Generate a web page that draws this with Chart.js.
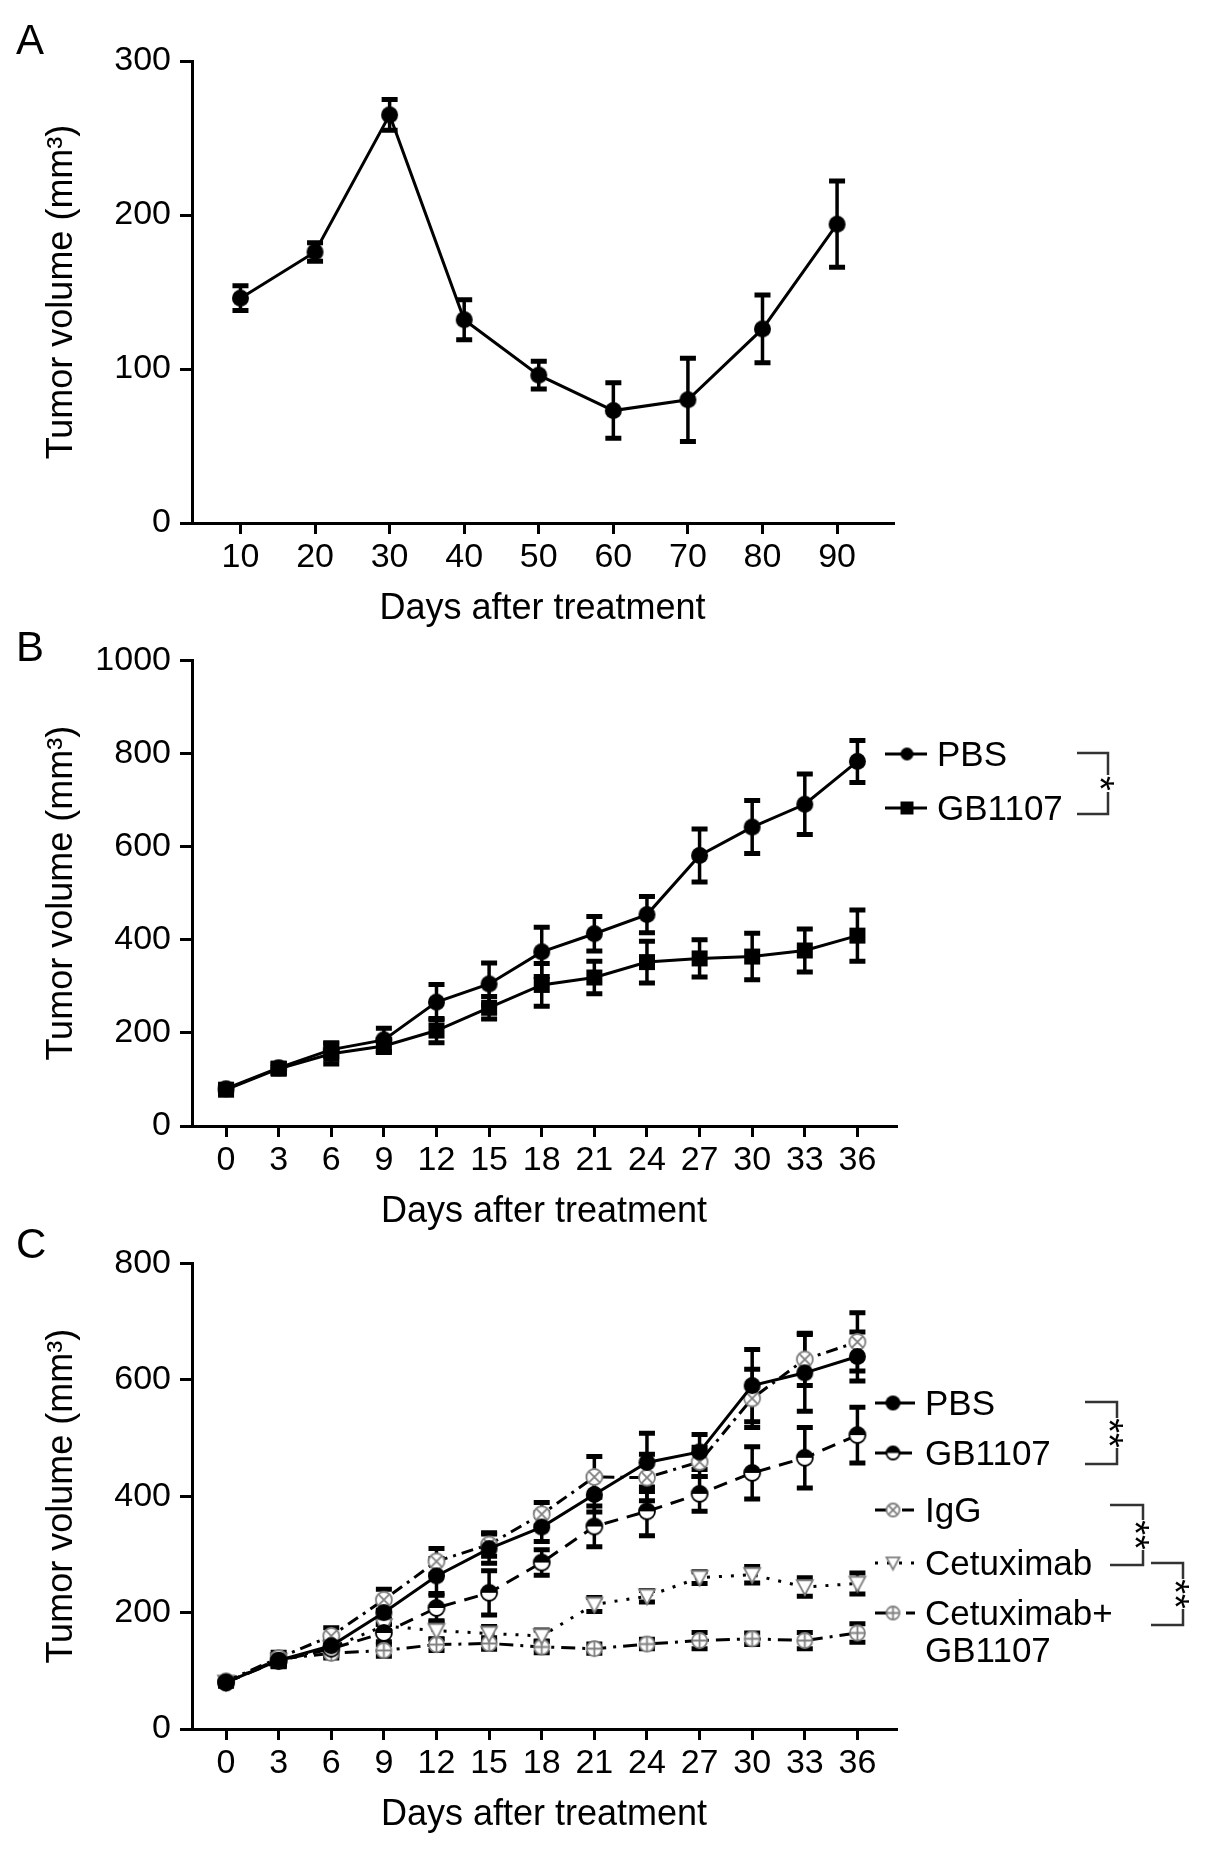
<!DOCTYPE html>
<html lang="en">
<head>
<meta charset="UTF-8">
<title>Tumor volume after treatment</title>
<script src="https://cdn.jsdelivr.net/npm/chart.js"></script>
<style>
  html, body { margin: 0; padding: 0; background: #fff; }
  body { width: 1205px; height: 1849px; position: relative; overflow: hidden;
         font-family: "Liberation Sans", Arial, sans-serif; }
  canvas.panel { position: absolute; left: 0; }
  .letter { position: absolute; left: 16px; font-size: 42px; line-height: 1; color: #000; }
</style>
</head>
<body>
<canvas id="chartA" class="panel" width="1205" height="631" style="top:0"></canvas>
<canvas id="chartB" class="panel" width="1205" height="603" style="top:631px"></canvas>
<canvas id="chartC" class="panel" width="1205" height="603" style="top:1234px"></canvas>
<div class="letter" style="top:19px">A</div>
<div class="letter" style="top:626px">B</div>
<div class="letter" style="top:1223px">C</div>

<script>
// panel A
const daysA = [10, 20, 30, 40, 50, 60, 70, 80, 90];
const volumeA = [146, 176, 265, 132, 96, 73, 80, 126, 194];
const errorA = [8, 6, 10, 13, 9, 18, 27, 22, 28];
const yTicksA = [0, 100, 200, 300];

// panels B and C share the days
const days = [0, 3, 6, 9, 12, 15, 18, 21, 24, 27, 30, 33, 36];

// panel B
const groupsB = ['PBS', 'GB1107'];
const pbsB = [80, 125, 164, 185, 266, 305, 374, 413, 454, 581, 642, 691, 783];
const pbsErrB = [6, 10, 15, 25, 38, 45, 53, 37, 39, 57, 57, 65, 45];
const gbB = [78, 123, 155, 172, 205, 254, 303, 319, 352, 360, 364, 377, 409];
const gbErrB = [8, 10, 22, 14, 26, 24, 46, 35, 45, 40, 50, 46, 55];
const yTicksB = [0, 200, 400, 600, 800, 1000];

// panel C
const groupsC = ['PBS', 'GB1107', 'IgG', 'Cetuximab', 'Cetuximab+GB1107'];
const pbsC = [80, 118, 143, 200, 263, 310, 347, 403, 458, 476, 590, 612, 640];
const pbsErrC = [6, 10, 12, 20, 30, 25, 25, 30, 50, 30, 62, 66, 42];
const gbC = [80, 117, 138, 165, 208, 234, 286, 348, 374, 404, 440, 466, 505];
const gbErrC = [6, 10, 12, 15, 22, 38, 22, 35, 42, 30, 45, 52, 48];
const iggC = [82, 122, 160, 222, 288, 317, 369, 433, 432, 459, 568, 635, 665];
const iggErrC = [5, 10, 14, 18, 22, 20, 20, 35, 40, 25, 50, 45, 50];
const cetC = [80, 118, 140, 177, 169, 164, 160, 214, 228, 260, 265, 244, 250];
const cetErrC = [5, 8, 10, 12, 15, 12, 10, 12, 10, 10, 14, 16, 18];
const comboC = [80, 120, 130, 135, 145, 147, 141, 138, 146, 152, 155, 152, 165];
const comboErrC = [5, 8, 8, 10, 10, 10, 10, 8, 8, 14, 10, 14, 16];
const yTicksC = [0, 200, 400, 600, 800];

const FONT = '"Liberation Sans", Arial, sans-serif';
Chart.defaults.font.family = FONT;
Chart.defaults.color = '#000';

const GRAY = '#808080';

// little canvases used as point styles
function makeMarker(type, s) {
  const c = document.createElement('canvas');
  const w = s + 4;
  c.width = c.height = w;
  const g = c.getContext('2d');
  const m = w / 2, r = s / 2;
  g.lineWidth = 1.8;
  if (type === 'dot') {
    g.fillStyle = '#000';
    g.beginPath(); g.arc(m, m, r, 0, 2 * Math.PI); g.fill();
  } else if (type === 'square') {
    g.fillStyle = '#000';
    g.fillRect(m - r, m - r, s, s);
  } else if (type === 'half') {
    g.fillStyle = '#fff';
    g.beginPath(); g.arc(m, m, r - 1, 0, 2 * Math.PI); g.fill();
    g.fillStyle = '#000';
    g.beginPath(); g.arc(m, m, r - 1, Math.PI, 2 * Math.PI); g.closePath(); g.fill();
    g.strokeStyle = '#000';
    g.beginPath(); g.arc(m, m, r - 1, 0, 2 * Math.PI); g.stroke();
  } else if (type === 'xcircle') {
    g.fillStyle = '#fff'; g.strokeStyle = GRAY;
    g.beginPath(); g.arc(m, m, r - 1, 0, 2 * Math.PI); g.fill(); g.stroke();
    const d = (r - 1) * 0.7;
    g.beginPath();
    g.moveTo(m - d, m - d); g.lineTo(m + d, m + d);
    g.moveTo(m + d, m - d); g.lineTo(m - d, m + d);
    g.stroke();
  } else if (type === 'tri') {
    g.fillStyle = '#fff'; g.strokeStyle = GRAY;
    g.beginPath();
    g.moveTo(m - r + 1, m - r * 0.75); g.lineTo(m + r - 1, m - r * 0.75); g.lineTo(m, m + r - 1);
    g.closePath(); g.fill(); g.stroke();
  } else if (type === 'pcircle') {
    g.fillStyle = '#fff'; g.strokeStyle = GRAY;
    g.beginPath(); g.arc(m, m, r - 1, 0, 2 * Math.PI); g.fill(); g.stroke();
    g.beginPath();
    g.moveTo(m - r + 1, m); g.lineTo(m + r - 1, m);
    g.moveTo(m, m - r + 1); g.lineTo(m, m + r - 1);
    g.stroke();
  }
  return c;
}

function points(xs, ys) {
  return xs.map((x, i) => ({ x: x, y: ys[i] }));
}

function series(label, xs, ys, errs, marker, size, dash) {
  return {
    label: label,
    data: points(xs, ys),
    errors: errs,
    markerType: marker,
    borderColor: '#000',
    borderWidth: 3,
    borderDash: dash,
    tension: 0,
    pointStyle: makeMarker(marker, size),
    pointRadius: size / 2,
    fill: false
  };
}

// error bars drawn under lines and markers
const errorBars = {
  id: 'errorBars',
  beforeDatasetsDraw(chart) {
    const { ctx, scales: { x, y } } = chart;
    ctx.save();
    ctx.strokeStyle = '#000';
    chart.data.datasets.forEach(ds => {
      if (!ds.errors) return;
      ds.data.forEach((p, j) => {
        const e = ds.errors[j];
        const px = x.getPixelForValue(p.x);
        const top = y.getPixelForValue(p.y + e);
        const bot = y.getPixelForValue(p.y - e);
        ctx.lineWidth = 3.5;
        ctx.beginPath(); ctx.moveTo(px, top); ctx.lineTo(px, bot); ctx.stroke();
        ctx.lineWidth = 5;
        ctx.beginPath();
        ctx.moveTo(px - 8, top); ctx.lineTo(px + 8, top);
        ctx.moveTo(px - 8, bot); ctx.lineTo(px + 8, bot);
        ctx.stroke();
      });
    });
    ctx.restore();
  }
};

function wrapLabel(t) {
  const k = t.indexOf('+');
  return k > 0 && k < t.length - 1 ? [t.slice(0, k + 1), t.slice(k + 1)] : [t];
}

// legend at the right plus significance brackets
const sideLegend = {
  id: 'sideLegend',
  afterDraw(chart, args, opts) {
    if (!opts.rows) return;
    const ctx = chart.ctx;
    const off = chart.canvas.offsetTop;
    ctx.save();
    chart.data.datasets.forEach((ds, i) => {
      const y = opts.rows[i] - off;
      ctx.strokeStyle = '#000';
      ctx.lineWidth = 3;
      ctx.setLineDash(ds.borderDash || []);
      ctx.beginPath(); ctx.moveTo(opts.lineX[0], y); ctx.lineTo(opts.lineX[1], y); ctx.stroke();
      ctx.setLineDash([]);
      const img = makeMarker(ds.markerType, opts.markerSize);
      ctx.drawImage(img, opts.markerX - img.width / 2, y - img.height / 2);
      ctx.fillStyle = '#000';
      ctx.font = '35px ' + FONT;
      ctx.textAlign = 'left';
      ctx.textBaseline = 'middle';
      wrapLabel(ds.label).forEach((t, k) => ctx.fillText(t, opts.textX, y + 2 + k * opts.lineGap));
    });
    (opts.brackets || []).forEach(b => {
      const y0 = b.y0 - off, y1 = b.y1 - off, ym = (y0 + y1) / 2;
      ctx.strokeStyle = '#333';
      ctx.lineWidth = 2.5;
      ctx.beginPath();
      ctx.moveTo(b.x0, y0); ctx.lineTo(b.x1, y0); ctx.lineTo(b.x1, y1); ctx.lineTo(b.x0, y1);
      ctx.stroke();
      const fs = 38;
      const h = b.text.length * 13 + 4;
      ctx.fillStyle = '#fff';
      ctx.fillRect(b.x1 - 4, ym - h / 2, 8, h);
      ctx.translate(b.x1, ym);
      ctx.rotate(Math.PI / 2);
      ctx.fillStyle = '#000';
      ctx.font = fs + 'px ' + FONT;
      ctx.textAlign = 'center';
      ctx.textBaseline = 'alphabetic';
      ctx.fillText(b.text, 0, 0.56 * fs);
      ctx.setTransform(1, 0, 0, 1, 0, 0);
    });
    ctx.restore();
  }
};

function axes(xMin, xMax, xTicks, yTicks) {
  return {
    x: {
      type: 'linear', min: xMin, max: xMax,
      afterBuildTicks: s => { s.ticks = xTicks.map(v => ({ value: v })); },
      afterFit: s => { s.height = 108; },
      grid: { drawOnChartArea: false, drawTicks: true, tickLength: 11, color: '#000', lineWidth: 3 },
      border: { display: true, color: '#000', width: 3 },
      ticks: { font: { size: 34 }, color: '#000', padding: 3, maxRotation: 0, autoSkip: false,
               callback: v => String(v) },
      title: { display: true, text: 'Days after treatment', font: { size: 36 }, color: '#000', padding: 0 }
    },
    y: {
      type: 'linear', min: yTicks[0], max: yTicks[yTicks.length - 1],
      afterBuildTicks: s => { s.ticks = yTicks.map(v => ({ value: v })); },
      afterFit: s => { s.width = 192; },
      grid: { drawOnChartArea: false, drawTicks: true, tickLength: 12, color: '#000', lineWidth: 3 },
      border: { display: true, color: '#000', width: 3 },
      ticks: { font: { size: 34 }, color: '#000', padding: 9, callback: v => String(v) },
      title: { display: true, text: 'Tumor volume (mm³)', font: { size: 36 }, color: '#000',
               padding: { top: 40, bottom: 0 } }
    }
  };
}

function baseOptions(padTop, padRight, scales, legend) {
  return {
    responsive: false,
    animation: false,
    layout: { padding: { top: padTop, right: padRight, left: 0, bottom: 0 } },
    scales: scales,
    plugins: {
      legend: { display: false },
      tooltip: { enabled: false },
      sideLegend: legend || {}
    }
  };
}

new Chart(document.getElementById('chartA'), {
  type: 'line',
  data: { datasets: [series('Tumor volume', daysA, volumeA, errorA, 'dot', 17, [])] },
  options: baseOptions(61, 312, axes(3.5, 97.5, daysA, yTicksA)),
  plugins: [errorBars, sideLegend]
});

new Chart(document.getElementById('chartB'), {
  type: 'line',
  data: {
    datasets: [
      series(groupsB[0], days, pbsB, pbsErrB, 'dot', 17, []),
      series(groupsB[1], days, gbB, gbErrB, 'square', 16, [])
    ]
  },
  options: baseOptions(24, 309, axes(-1.94, 38.2, days, yTicksB), {
    rows: [754, 808], lineX: [885, 927], markerX: 907, markerSize: 13, textX: 937, lineGap: 37,
    brackets: [{ x0: 1077, x1: 1108, y0: 753, y1: 814, text: '*' }]
  }),
  plugins: [errorBars, sideLegend]
});

new Chart(document.getElementById('chartC'), {
  type: 'line',
  data: {
    datasets: [
      series(groupsC[0], days, pbsC, pbsErrC, 'dot', 17, []),
      series(groupsC[1], days, gbC, gbErrC, 'half', 18, [14, 9]),
      series(groupsC[2], days, iggC, iggErrC, 'xcircle', 18, [12, 6, 3, 6]),
      series(groupsC[3], days, cetC, cetErrC, 'tri', 18, [3, 9]),
      series(groupsC[4], days, comboC, comboErrC, 'pcircle', 17, [14, 7, 3, 7])
    ]
  },
  options: baseOptions(26, 309, axes(-1.94, 38.2, days, yTicksC), {
    rows: [1403, 1453, 1510, 1563, 1613], lineX: [875, 915], markerX: 893, markerSize: 15,
    textX: 925, lineGap: 37,
    brackets: [
      { x0: 1085, x1: 1117, y0: 1402, y1: 1464, text: '**' },
      { x0: 1110, x1: 1143, y0: 1505, y1: 1565, text: '**' },
      { x0: 1151, x1: 1183, y0: 1563, y1: 1625, text: '**' }
    ]
  }),
  plugins: [errorBars, sideLegend]
});
</script>
</body>
</html>
